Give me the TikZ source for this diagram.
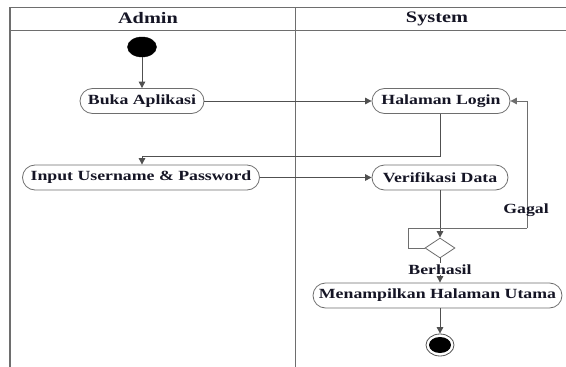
\documentclass[tikz,border=0pt]{standalone}
\usepackage{fontspec}
\setmainfont{Liberation Serif}
\newfontfamily\lblfont[FakeStretch=1.27]{Liberation Serif}
\usetikzlibrary{arrows.meta,shapes.geometric}
\definecolor{ln}{HTML}{505050}
\definecolor{fr}{HTML}{6E6E6E}
\definecolor{tx}{HTML}{151525}
\begin{document}
\begin{tikzpicture}[x=1pt,y=-1pt,
  txt/.style={font=\lblfont\bfseries\fontsize{14}{16}\selectfont, text=tx},
  head/.style={font=\lblfont\bfseries\fontsize{16}{18}\selectfont, text=tx},
  act/.style={txt, draw=fr, line width=0.8pt, rounded corners=12.5pt, minimum height=25pt, inner sep=0pt, fill=white},
  flow/.style={draw=ln, line width=1pt, -{Triangle[length=6.5pt,width=6.5pt]}},
  framel/.style={draw=fr, line width=1pt}]
\useasboundingbox (0,0) rectangle (566,367);
% frame
\draw[framel] (10,7) -- (566,7);
\draw[framel] (10,30) -- (566,30);
\draw[framel, line width=1.8pt] (10,7) -- (10,367);
\draw[framel] (295,7) -- (295,367);
\node[head] (hadmin) at (148,18.5) {Admin};
\node[head] (hsys) at (437,18.5) {System};
% nodes
\node[draw=black, fill=black, ellipse, minimum width=29pt, minimum height=20pt, inner sep=0pt] (start) at (142,47) {};
\node[act, minimum width=124pt] (buka) at (142,101) {Buka Aplikasi};
\node[act, minimum width=138pt] (login) at (441,101) {Halaman Login};
\node[act, minimum width=237pt] (input) at (141,177.5) {Input Username \& Password};
\node[act, minimum width=136pt] (verif) at (440,177.5) {Verifikasi Data};
\node[diamond, draw=fr, line width=0.8pt, fill=white, minimum width=30pt, minimum height=20pt, inner sep=0pt, aspect=1.5] (dec) at (440,248) {};
\node[act, minimum width=249pt] (menu) at (437.5,295.5) {Menampilkan Halaman Utama};
\node[draw=ln, line width=0.8pt, ellipse, minimum width=28pt, minimum height=22pt, inner sep=0pt] (endo) at (440,345) {};
\node[fill=black, ellipse, minimum width=22pt, minimum height=16pt, inner sep=0pt] (endi) at (440,345) {};
\coordinate (c1) at (440,156);
\coordinate (c2) at (142,156);
\coordinate (g1) at (408,248);
\coordinate (g2) at (408,228);
\coordinate (g3) at (527,228);
\coordinate (g4) at (527,101);
% connectors
\draw[flow] (start) -- (buka);
\draw[flow] (buka) -- (login);
\draw[flow] (login.south -| c1) -- (c1) -- (c2) -- (input.north -| c2);
\draw[flow] (input) -- (verif);
\draw[flow] (verif.south -| dec) -- (dec.north);
\draw[draw=fr, line width=1pt] (dec.west) -- (g1) -- (g2) -- (g3);
\draw[flow, draw=fr] (g3) -- (g4) -- (login.east);
\node[txt] (gagal) at (526,210) {Gagal};
\draw[flow] (dec.south) -- (menu.north -| dec) node[pos=0.45, txt, fill=white, inner sep=1pt] (berhasil) {Berhasil};
\draw[flow] (menu.south -| endo) -- (endo.north);
\end{tikzpicture}
\end{document}
